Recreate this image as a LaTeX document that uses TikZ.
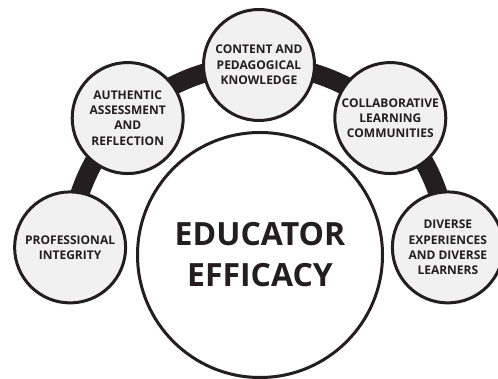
\documentclass[tikz,border=0pt]{standalone}
\usepackage{fontspec}
\setmainfont{Open Sans}
\usetikzlibrary{backgrounds,calc}
\definecolor{ink}{HTML}{231F20}
\definecolor{disc}{HTML}{F1F1F2}
\begin{document}
\begin{tikzpicture}[x=1pt,y=1pt,
  small/.style={circle, draw=ink, line width=3pt, fill=disc, minimum size=111pt, inner sep=0pt, align=center, text=ink, font=\fontsize{12}{15.3}\selectfont\bfseries},
  big/.style={circle, draw=ink, line width=3pt, fill=white, minimum size=245pt, inner sep=0pt, align=center, text=ink, font=\fontsize{32}{41}\selectfont\bfseries},
  band/.style={draw=ink, line width=19pt}]
\useasboundingbox (0,0) rectangle (498,379);
\coordinate (o) at (259,125);
\node[big] (core) at (260,124) {EDUCATOR\\EFFICACY};
\node[small] (prof) at ($(o)+(178:189pt)$) {PROFESSIONAL\\INTEGRITY};
\node[small] (auth) at ($(o)+(134:189pt)$) {AUTHENTIC\\ASSESSMENT\\AND\\REFLECTION};
\node[small] (cont) at ($(o)+(90:189pt)$) {CONTENT AND\\PEDAGOGICAL\\KNOWLEDGE};
\node[small] (coll) at ($(o)+(46:189pt)$) {COLLABORATIVE\\LEARNING\\COMMUNITIES};
\node[small] (div) at ($(o)+(2:189pt)$) {DIVERSE\\EXPERIENCES\\AND DIVERSE\\LEARNERS};
\begin{scope}[on background layer]
\draw[band] (prof.center) arc[start angle=178, end angle=134, radius=189pt];
\draw[band] (auth.center) arc[start angle=134, end angle=90, radius=189pt];
\draw[band] (cont.center) arc[start angle=90, end angle=46, radius=189pt];
\draw[band] (coll.center) arc[start angle=46, end angle=2, radius=189pt];
\end{scope}
\end{tikzpicture}
\end{document}
